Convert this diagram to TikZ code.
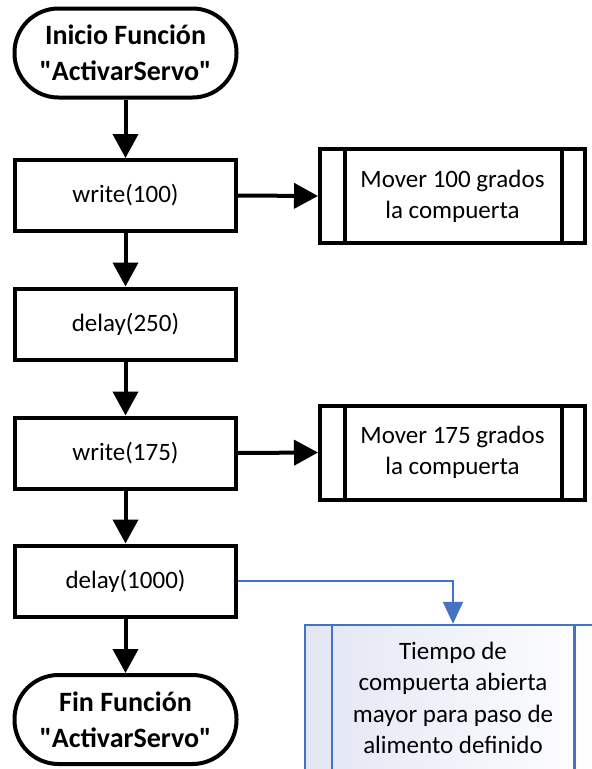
\documentclass[tikz,border=0pt]{standalone}
\usepackage{fontspec}
\setmainfont{Carlito}[Ligatures=TeXOff]
\usetikzlibrary{arrows.meta,calc}
\definecolor{linkblue}{RGB}{68,114,196}
\definecolor{paleblue}{RGB}{226,230,244}
\tikzset{
  terminal/.style={draw, line width=4pt, rounded corners=44pt,
    minimum width=222pt, minimum height=89pt, inner sep=0pt,
    align=center, font=\fontsize{28}{36}\selectfont\bfseries},
  procbox/.style={draw, line width=4pt, minimum width=221pt,
    minimum height=71pt, inner sep=0pt, font=\fontsize{25}{31}\selectfont},
  subproc/.style={draw, line width=4pt, minimum width=265pt,
    minimum height=94pt, inner sep=0pt, align=center,
    font=\fontsize{25}{31}\selectfont},
  notebox/.style={draw=linkblue, line width=2.5pt, minimum width=296pt,
    minimum height=146pt, inner sep=0pt, align=center,
    left color=paleblue, right color=white,
    font=\fontsize{25}{31.5}\selectfont},
  flow/.style={line width=4pt, -{Triangle[width=25pt,length=24pt]}},
  noteflow/.style={draw=linkblue, line width=2pt,
    -{Triangle[width=20pt,length=22pt]}, color=linkblue},
}
\begin{document}
\begin{tikzpicture}[x=1pt,y=1pt]
\useasboundingbox (0,0) rectangle (592,-769);
\begin{scope}
\clip (0,0) rectangle (592,-769);

% main column
\node[terminal] (start) at (125.5,-53) {Inicio Función\\"ActivarServo"};
\node[procbox] (w100) at (125.5,-195.5) {write(100)};
\node[procbox] (d250) at (125.5,-324) {delay(250)};
\node[procbox] (w175) at (125.5,-453) {write(175)};
\node[procbox] (d1000) at (125.5,-581) {delay(1000)};
\node[terminal] (fin) at (125.5,-719.5) {Fin Función\\"ActivarServo"};

% predefined processes on the right
\node[subproc] (m100) at (452.5,-196) {Mover 100 grados\\la compuerta};
\node[subproc] (m175) at (452.5,-452.5) {Mover 175 grados\\la compuerta};
\node[notebox] (tiempo) at (453,-698) {Tiempo de\\compuerta abierta\\mayor para paso de\\alimento definido};

% inner bars of the predefined-process boxes
\foreach \b in {m100,m175}{
  \draw[line width=4pt] ([xshift=27pt]\b.north west) -- ([xshift=27pt]\b.south west);
  \draw[line width=4pt] ([xshift=-25pt]\b.north east) -- ([xshift=-25pt]\b.south east);
}
\draw[linkblue, line width=2.5pt] ([xshift=28pt]tiempo.north west) -- ([xshift=28pt]tiempo.south west);
\draw[linkblue, line width=2.5pt] ([xshift=-28pt]tiempo.north east) -- ([xshift=-28pt]tiempo.south east);

% connectors
\draw[flow] (start) -- (w100);
\draw[flow] (w100) -- (d250);
\draw[flow] (d250) -- (w175);
\draw[flow] (w175) -- (d1000);
\draw[flow] (d1000) -- (fin);
\draw[flow] (w100.east) -- (m100.west);
\draw[flow] (w175.east) -- (m175.west);
\draw[noteflow] (d1000.east) -| (tiempo.north);
\end{scope}
\end{tikzpicture}
\end{document}
